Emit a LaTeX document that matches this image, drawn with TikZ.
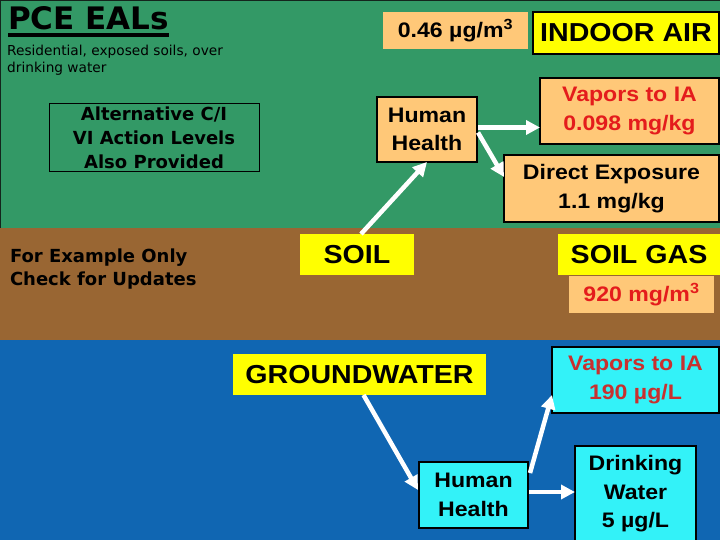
\documentclass[tikz,border=0pt]{standalone}
\usepackage{fontspec}
\setmainfont{Liberation Sans}
\newfontfamily\arb{Liberation Sans}[FakeStretch=1.1]
\newfontfamily\tah{DejaVu Sans}
\usetikzlibrary{arrows.meta,calc}
\definecolor{bggreen}{HTML}{339966}
\definecolor{bgbrown}{HTML}{996633}
\definecolor{bgblue}{HTML}{1066B2}
\definecolor{orangebox}{HTML}{FFC878}
\definecolor{yellowbox}{HTML}{FFFF00}
\definecolor{cyanbox}{HTML}{33F2F8}
\definecolor{redA}{HTML}{E41C1C}
\definecolor{redB}{HTML}{C8302F}
\definecolor{framec}{HTML}{14241C}
\begin{document}
\begin{tikzpicture}[x=1pt,y=-1pt,
  box/.style={inner sep=0pt, outer sep=0pt, align=center,
    font=\arb\bfseries\fontsize{21}{28.5}\selectfont},
  head/.style={box, font=\arb\bfseries\fontsize{26}{26}\selectfont},
  obox/.style={box, fill=orangebox, draw=black, line width=2pt},
  oplain/.style={box, fill=orangebox},
  cbox/.style={box, fill=cyanbox, draw=black, line width=2pt},
  ybox/.style={head, fill=yellowbox},
  warrow/.style={white, line width=4.5pt, -{Triangle[length=14pt,width=14pt]}},
  leftbold/.style={inner sep=0pt, outer sep=0pt, font=\tah\bfseries\fontsize{18}{24}\selectfont}
]
\useasboundingbox (0,0) rectangle (720,540);
% background bands
\fill[bggreen] (0,0) rectangle (720,228);
\fill[bgbrown] (0,228) rectangle (720,340);
\fill[bgblue] (0,340) rectangle (720,540);
\draw[framec, line width=2pt] (0,228) -- (0,0) -- (720,0);

% title block
\node[anchor=base west, inner sep=0pt, font=\tah\bfseries\fontsize{31}{31}\selectfont] (title) at (8,30) {PCE EALs};
\draw[line width=3.5pt] ($(title.base west)+(0,5)$) -- ($(title.base east)+(0,5)$);
\node[anchor=north west, inner sep=0pt, align=left, font=\tah\fontsize{13.7}{17}\selectfont] (sub) at (7,44.5) {Residential, exposed soils, over\\drinking water};

\node[leftbold, align=center, draw=black, line width=1pt, minimum width=210pt, minimum height=68pt] (alt) at (154,138) {Alternative C/I\\VI Action Levels\\Also Provided};
\node[leftbold, align=left, anchor=north west, font=\tah\bfseries\fontsize{18}{23}\selectfont] (example) at (10,248.5) {For Example Only\\Check for Updates};

% indoor air region
\node[oplain, minimum width=145pt, minimum height=37pt] (c046) at (455.5,30.5) {0.46 µg/m\textsuperscript{3}};
\node[ybox, draw=black, line width=2pt, minimum width=186pt, minimum height=42pt] (indoor) at (626,33) {INDOOR AIR};
\node[obox, minimum width=100pt, minimum height=65pt] (hh1) at (427,129.5) {Human\\Health};
\node[obox, text=redA, minimum width=179pt, minimum height=66pt] (vap1) at (629.5,111) {Vapors to IA\\0.098 mg/kg};
\node[obox, minimum width=215pt, minimum height=67pt] (dir) at (611.5,188.5) {Direct Exposure\\1.1 mg/kg};

% soil region
\node[ybox, minimum width=114pt, minimum height=41pt] (soil) at (357,254.5) {SOIL};
\node[ybox, minimum width=162pt, minimum height=41pt] (soilgas) at (639,254.5) {SOIL GAS};
\node[oplain, text=redA, minimum width=145pt, minimum height=37pt] (c920) at (641.5,294.5) {920 mg/m\textsuperscript{3}};

% groundwater region
\node[ybox, minimum width=253pt, minimum height=41pt] (gw) at (359.5,374.5) {GROUNDWATER};
\node[cbox, minimum width=109pt, minimum height=66pt] (hh2) at (473.5,495) {Human\\Health};
\node[cbox, text=redB, minimum width=167pt, minimum height=66pt] (vap2) at (635.5,380) {Vapors to IA\\190 µg/L};
\node[cbox, minimum width=121pt, minimum height=96pt] (drink) at (635.5,494) {Drinking\\Water\\5 µg/L};

% arrows
\draw[warrow] ($(hh1.east)+(1,-2)$) -- ($(hh1.east -| vap1.west)+(0,-2)$);
\draw[warrow] ($(hh1.east)+(1,3)$) -- ($(dir.north west)+(0,22)$);
\draw[warrow] ($(soil.north)+(4,0)$) -- (hh1.south);
\draw[warrow] ($(gw.south)+(4,0)$) -- ($(hh2.west)+(-1,-5)$);
\draw[warrow] ($(hh2.east)+(1,-3)$) -- ($(hh2.east -| drink.west)+(0,-3)$);
\draw[warrow] ($(hh2.north east)+(2,11)$) -- ($(vap2.south west)+(0,-18)$);
\end{tikzpicture}
\end{document}
